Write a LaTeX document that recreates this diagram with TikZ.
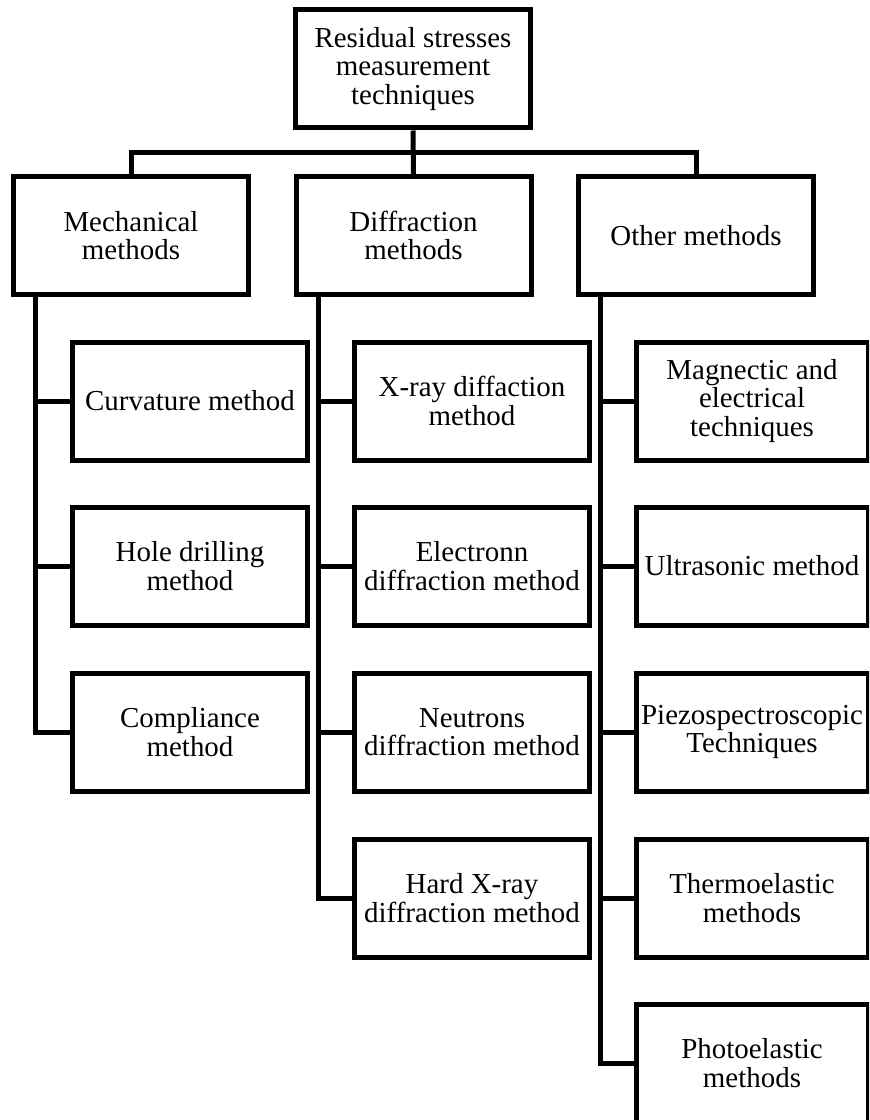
\documentclass[tikz,border=0pt]{standalone}
\usepackage{fontspec}
\setmainfont{Liberation Serif}

\begin{document}
\begin{tikzpicture}[x=0.75pt,y=-0.75pt,
  box/.style={draw,line width=3.75pt,align=center,inner sep=0pt,
    minimum width=176.25pt,minimum height=88.5pt,
    font=\fontsize{21.7}{21.3}\selectfont},
  link/.style={line width=3.75pt}]
  \clip (0,0) rectangle (869,1120);
  % top and the three families
  \node[box] (top) at (413,69) {Residual stresses\\ measurement\\ techniques};
  \node[box] (mech) at (131,235.5) {Mechanical\\ methods};
  \node[box] (diff) at (413.5,235.5) {Diffraction\\ methods};
  \node[box] (other) at (696,235.5) {Other methods};
  \coordinate (bus) at (0,153);
  \draw[link] (top.south) -- (diff.north);
  \draw[link] (mech.north) -- (mech.north |- bus) -- (other.north |- bus) -- (other.north);
  % mechanical
  \node[box] (curv) at (190,401) {Curvature method};
  \node[box] (hole) at (190,566) {Hole drilling\\ method};
  \node[box] (compl) at (190,732) {Compliance\\ method};
  % diffraction
  \node[box] (xray) at (472,401) {X-ray diffaction\\ method};
  \node[box] (elec) at (472,566) {Electronn\\ diffraction method};
  \node[box] (neut) at (472,732) {Neutrons\\ diffraction method};
  \node[box] (hard) at (472,898) {Hard X-ray\\ diffraction method};
  % other
  \node[box,minimum width=174pt] (magn) at (752,401) {Magnectic and\\ electrical\\ techniques};
  \node[box,minimum width=174pt] (ultra) at (752,566) {Ultrasonic method};
  \node[box,minimum width=174pt] (piezo) at (752,732) {Piezospectroscopic\\ Techniques};
  \node[box,minimum width=174pt] (thermo) at (752,898) {Thermoelastic\\ methods};
  \node[box,minimum width=174pt] (photo) at (752,1063) {Photoelastic\\ methods};
  \coordinate (mechS) at ([xshift=18pt]mech.south west);
  \coordinate (diffS) at ([xshift=18.75pt]diff.south west);
  \coordinate (otherS) at ([xshift=18pt]other.south west);
  \draw[link] (mechS) |- (compl.west);
  \foreach \n in {curv,hole} \draw[link] (mechS |- \n.west) -- (\n.west);
  \draw[link] (diffS) |- (hard.west);
  \foreach \n in {xray,elec,neut} \draw[link] (diffS |- \n.west) -- (\n.west);
  \draw[link] (otherS) |- (photo.west);
  \foreach \n in {magn,ultra,piezo,thermo} \draw[link] (otherS |- \n.west) -- (\n.west);
\end{tikzpicture}
\end{document}
